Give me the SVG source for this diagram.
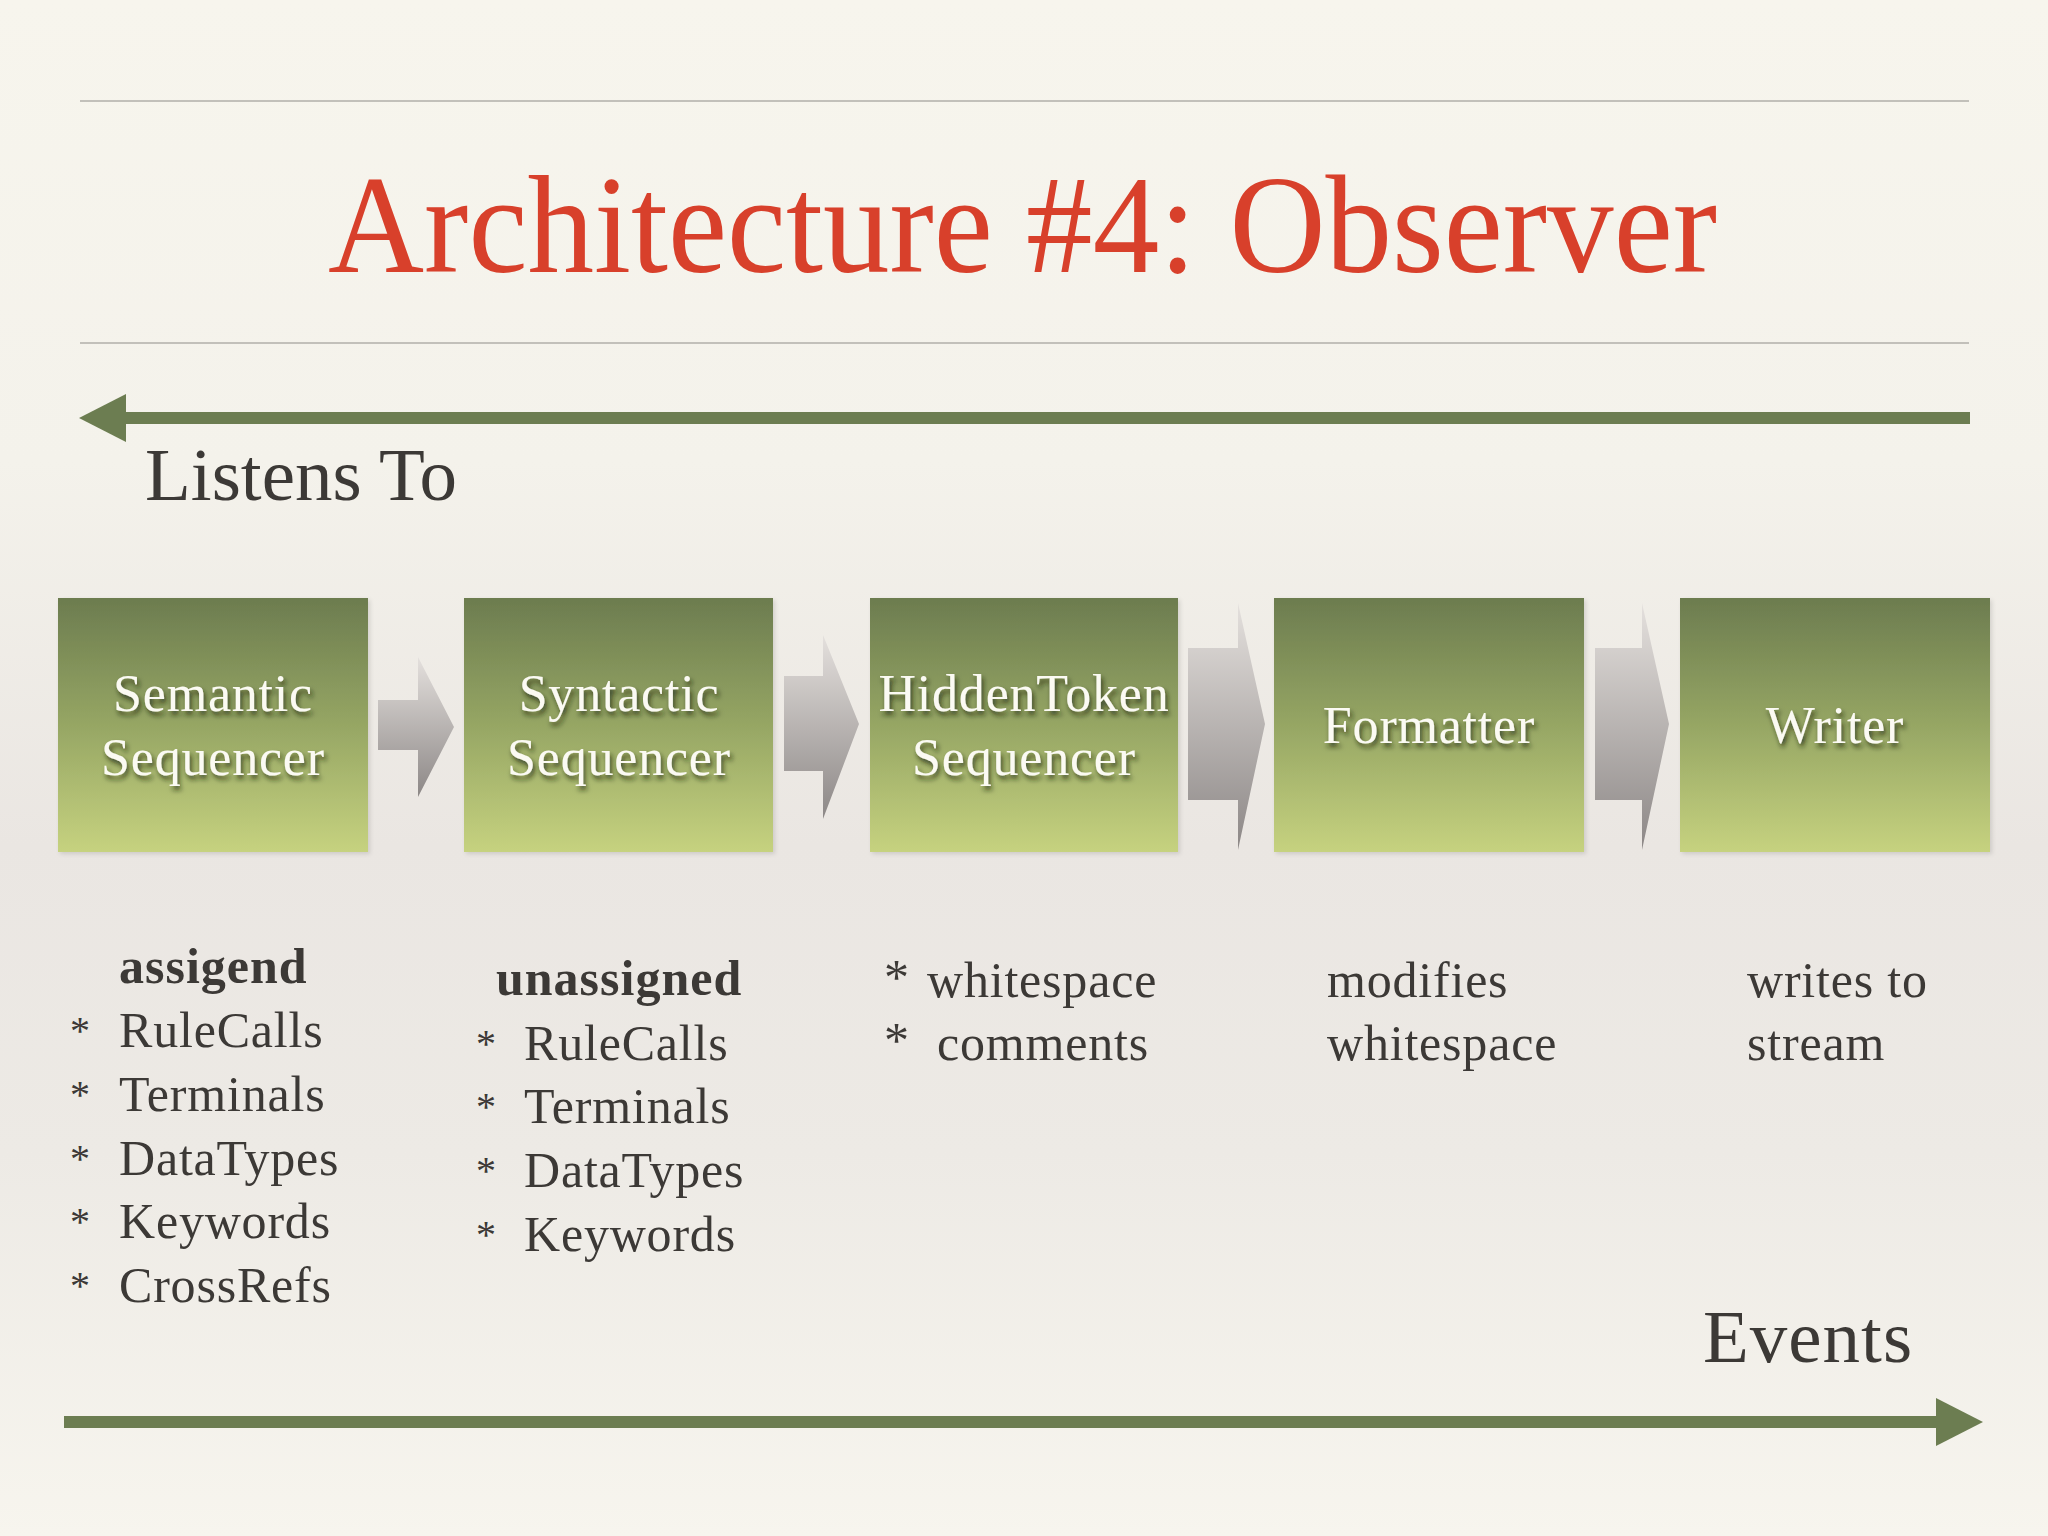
<svg xmlns="http://www.w3.org/2000/svg" width="2048" height="1536" viewBox="0 0 2048 1536">
  <defs>
    <linearGradient id="bg" x1="0" y1="0" x2="0" y2="1">
      <stop offset="0" stop-color="#F7F5ED"/>
      <stop offset="0.3" stop-color="#F4F2EB"/>
      <stop offset="0.55" stop-color="#EAE6E2"/>
      <stop offset="0.75" stop-color="#EDEAE5"/>
      <stop offset="1" stop-color="#F7F5EE"/>
    </linearGradient>
    <linearGradient id="boxfill" x1="0" y1="0" x2="0" y2="1">
      <stop offset="0" stop-color="#6C7C4F"/>
      <stop offset="0.5" stop-color="#96A664"/>
      <stop offset="1" stop-color="#C6D27F"/>
    </linearGradient>
    <linearGradient id="grayfill" x1="0" y1="0" x2="0" y2="1">
      <stop offset="0" stop-color="#E4E0DD"/>
      <stop offset="1" stop-color="#8C8786"/>
    </linearGradient>
    <filter id="tshadow" x="-10%" y="-30%" width="120%" height="160%">
      <feDropShadow dx="2" dy="4" stdDeviation="2.5" flood-color="#1e2412" flood-opacity="0.75"/>
    </filter>
    <filter id="bshadow" x="-5%" y="-5%" width="110%" height="110%">
      <feDropShadow dx="2" dy="2" stdDeviation="2" flood-color="#000" flood-opacity="0.12"/>
    </filter>
    <style>
      .title { font-family: "Liberation Serif", "Times New Roman", serif; font-size: 140px; fill: #D8402B; }
      .big { font-family: "Liberation Serif", "Times New Roman", serif; font-size: 75px; fill: #3C3936; }
      .node rect { fill: url(#boxfill); }
      .label { font-family: "Liberation Serif", "Times New Roman", serif; font-size: 52px; letter-spacing: 0.8px; fill: #FBFAF3; text-anchor: middle; filter: url(#tshadow); }
      .item { font-family: "Liberation Serif", "Times New Roman", serif; font-size: 50px; letter-spacing: 0.8px; fill: #3C3936; }
      .ast { font-family: "Liberation Serif", "Times New Roman", serif; font-size: 40px; fill: #3C3936; }
      .ast2 { font-family: "Liberation Serif", "Times New Roman", serif; font-size: 50px; fill: #3C3936; }
      .head { font-family: "Liberation Serif", "Times New Roman", serif; font-size: 50px; letter-spacing: 1px; font-weight: bold; fill: #3C3936; }
      .rule { stroke: #C2C0BA; stroke-width: 2; }
      .green { fill: #6C7D51; }
      .gray { fill: url(#grayfill); }
    </style>
  </defs>

  <rect x="0" y="0" width="2048" height="1536" fill="url(#bg)"/>

  <line class="rule" x1="80" y1="101" x2="1969" y2="101"/>
  <line class="rule" x1="80" y1="343" x2="1969" y2="343"/>
  <text class="title" x="328" y="272" textLength="1389" lengthAdjust="spacingAndGlyphs">Architecture #4: Observer</text>

  <g id="connectors">
    <g id="listens-arrow">
      <rect class="green" x="120" y="412" width="1850" height="12"/>
      <polygon class="green" points="126,394 126,442 79,418"/>
    </g>
    <g id="events-arrow">
      <rect class="green" x="64" y="1416" width="1876" height="12"/>
      <polygon class="green" points="1936,1398 1936,1446 1983,1422"/>
    </g>
    <path class="gray" d="M378,700 H418 V657 L454,727 L418,797 V750 H378 Z"/>
    <path class="gray" d="M784,676 H823 V635 L859,724 L823,819 V771 H784 Z"/>
    <path class="gray" d="M1188,648 H1238 V603 L1265,724 L1238,850 V800 H1188 Z"/>
    <path class="gray" d="M1595,648 H1642 V603 L1669,724 L1642,850 V800 H1595 Z"/>
  </g>

  <text class="big" x="145" y="500">Listens To</text>
  <text class="big" x="1703" y="1362" letter-spacing="1">Events</text>

  <g id="node-semantic" class="node">
    <rect x="58" y="598" width="310" height="254" filter="url(#bshadow)"/>
    <text class="label" x="213" y="711">Semantic</text>
    <text class="label" x="213" y="775">Sequencer</text>
  </g>
  <g id="node-syntactic" class="node">
    <rect x="464" y="598" width="309" height="254" filter="url(#bshadow)"/>
    <text class="label" x="619" y="711">Syntactic</text>
    <text class="label" x="619" y="775">Sequencer</text>
  </g>
  <g id="node-hiddentoken" class="node">
    <rect x="870" y="598" width="308" height="254" filter="url(#bshadow)"/>
    <text class="label" x="1024" y="711">HiddenToken</text>
    <text class="label" x="1024" y="775">Sequencer</text>
  </g>
  <g id="node-formatter" class="node">
    <rect x="1274" y="598" width="310" height="254" filter="url(#bshadow)"/>
    <text class="label" x="1429" y="743">Formatter</text>
  </g>
  <g id="node-writer" class="node">
    <rect x="1680" y="598" width="310" height="254" filter="url(#bshadow)"/>
    <text class="label" x="1835" y="743">Writer</text>
  </g>

  <g id="notes-semantic">
    <text class="head" x="119" y="983">assigend</text>
    <text class="ast" x="70" y="1044">*</text><text class="item" x="119" y="1047">RuleCalls</text>
    <text class="ast" x="70" y="1108">*</text><text class="item" x="119" y="1111">Terminals</text>
    <text class="ast" x="70" y="1172">*</text><text class="item" x="119" y="1175">DataTypes</text>
    <text class="ast" x="70" y="1235">*</text><text class="item" x="119" y="1238">Keywords</text>
    <text class="ast" x="70" y="1299">*</text><text class="item" x="119" y="1302">CrossRefs</text>
  </g>
  <g id="notes-syntactic">
    <text class="head" x="496" y="995">unassigned</text>
    <text class="ast" x="476" y="1057">*</text><text class="item" x="524" y="1060">RuleCalls</text>
    <text class="ast" x="476" y="1120">*</text><text class="item" x="524" y="1123">Terminals</text>
    <text class="ast" x="476" y="1184">*</text><text class="item" x="524" y="1187">DataTypes</text>
    <text class="ast" x="476" y="1248">*</text><text class="item" x="524" y="1251">Keywords</text>
  </g>
  <g id="notes-hiddentoken">
    <text class="ast2" x="884" y="994">*</text><text class="item" x="927" y="997">whitespace</text>
    <text class="ast2" x="884" y="1057">*</text><text class="item" x="937" y="1060">comments</text>
  </g>
  <g id="notes-formatter">
    <text class="item" x="1327" y="997">modifies</text>
    <text class="item" x="1327" y="1060">whitespace</text>
  </g>
  <g id="notes-writer">
    <text class="item" x="1747" y="997">writes to</text>
    <text class="item" x="1747" y="1060">stream</text>
  </g>
</svg>
